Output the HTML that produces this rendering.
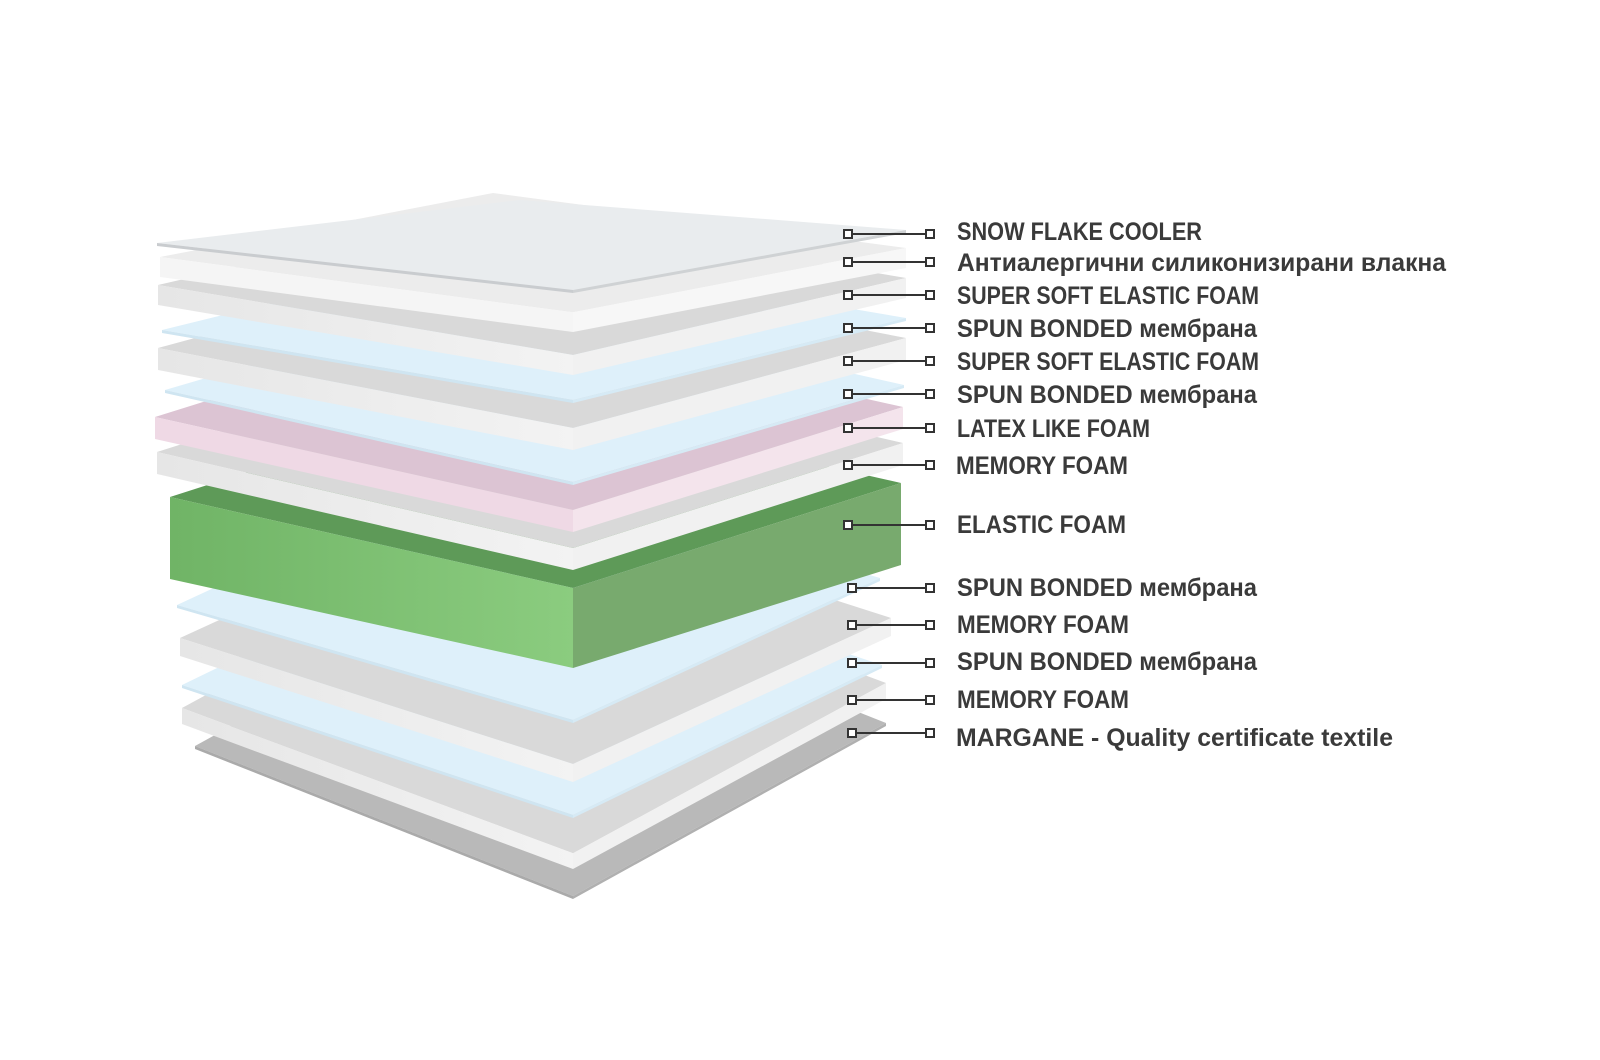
<!DOCTYPE html>
<html><head><meta charset="utf-8"><style>
html,body{margin:0;padding:0;background:#fff;width:1600px;height:1060px;overflow:hidden}
svg{display:block}
text{font-family:"Liberation Sans Narrow","Liberation Sans",sans-serif;font-weight:bold;font-size:25px;fill:#3a3a3a}
</style></head><body>
<svg width="1600" height="1060" viewBox="0 0 1600 1060" xmlns="http://www.w3.org/2000/svg">
<defs>
<linearGradient id="gl" x1="0" x2="1"><stop offset="0" stop-color="#70b466"/><stop offset="1" stop-color="#8bcc7f"/></linearGradient>
<linearGradient id="wl" x1="0" x2="1"><stop offset="0" stop-color="#e6e6e6"/><stop offset="1" stop-color="#f3f3f3"/></linearGradient>
</defs>
<polygon points="195,746 508,573 886,723 573,896" fill="#b9b9b9"/>
<polygon points="195,746 573,896 573,899 195,749" fill="#aaa"/>
<polygon points="573,896 886,723 886,726 573,899" fill="#b0b0b0"/>
<polygon points="182,708 495,538 886,683 573,853" fill="#d9d9d9"/>
<polygon points="182,708 573,853 573,869 182,724" fill="url(#wl)"/>
<polygon points="573,853 886,683 886,699 573,869" fill="#f1f1f1"/>
<polygon points="182,685 491,535 882,665 573,815" fill="#def0fa"/>
<polygon points="182,685 573,815 573,818 182,688" fill="#cfe5f1"/>
<polygon points="573,815 882,665 882,668 573,818" fill="#d6eaf5"/>
<polygon points="180,638 498,492 891,618 573,764" fill="#d9d9d9"/>
<polygon points="180,638 573,764 573,782 180,656" fill="url(#wl)"/>
<polygon points="573,764 891,618 891,636 573,782" fill="#f1f1f1"/>
<polygon points="177,605 484,463 880,578 573,720" fill="#def0fa"/>
<polygon points="177,605 573,720 573,723 177,608" fill="#cfe5f1"/>
<polygon points="573,720 880,578 880,581 573,723" fill="#d6eaf5"/>
<!-- green -->
<polygon points="170,497 498,392 901,483 573,588" fill="#5e9a58"/>
<polygon points="170,497 573,588 573,668 170,579" fill="url(#gl)"/>
<polygon points="573,588 901,483 901,565 573,668" fill="#78aa6e"/>
<polygon points="157,452 487,347 903,443 573,548" fill="#d9d9d9"/>
<polygon points="157,452 573,548 573,570 157,474" fill="url(#wl)"/>
<polygon points="573,548 903,443 903,465 573,570" fill="#f1f1f1"/>
<polygon points="155,417 485,314 903,407 573,510" fill="#dcc4d3"/>
<polygon points="155,417 573,510 573,532 155,439" fill="#efd9e5"/>
<polygon points="573,510 903,407 903,429 573,532" fill="#f4e4ec"/>
<polygon points="165,390 496,293 904,385 573,482" fill="#def0fa"/>
<polygon points="165,390 573,482 573,485 165,393" fill="#cfe5f1"/>
<polygon points="573,482 904,385 904,388 573,485" fill="#d6eaf5"/>
<polygon points="158,348 491,258 906,338 573,428" fill="#d9d9d9"/>
<polygon points="158,348 573,428 573,450 158,370" fill="url(#wl)"/>
<polygon points="573,428 906,338 906,360 573,450" fill="#f1f1f1"/>
<polygon points="162,330 495,248 906,318 573,400" fill="#def0fa"/>
<polygon points="162,330 573,400 573,403 162,333" fill="#cfe5f1"/>
<polygon points="573,400 906,318 906,321 573,403" fill="#d6eaf5"/>
<polygon points="158,285 491,208 906,278 573,355" fill="#d9d9d9"/>
<polygon points="158,285 573,355 573,375 158,305" fill="url(#wl)"/>
<polygon points="573,355 906,278 906,298 573,375" fill="#f1f1f1"/>
<polygon points="160,257 493,193 906,248 573,312" fill="#ececec"/>
<polygon points="160,257 573,312 573,332 160,277" fill="#f5f5f5"/>
<polygon points="573,312 906,248 906,268 573,332" fill="#f7f7f7"/>
<polygon points="157,243 520,200 906,230 573,290" fill="#e9ecee"/>
<polygon points="157,243 573,290 573,293 157,246" fill="#c9cccf"/>
<polygon points="573,290 906,230 906,233 573,293" fill="#cfd2d4"/>

<g stroke="#333" stroke-width="2" fill="#fff">
<line x1="848" y1="234" x2="926" y2="234"/><rect x="844" y="230" width="8" height="8"/><rect x="926" y="230" width="8" height="8"/>
<line x1="848" y1="262" x2="926" y2="262"/><rect x="844" y="258" width="8" height="8"/><rect x="926" y="258" width="8" height="8"/>
<line x1="848" y1="295" x2="926" y2="295"/><rect x="844" y="291" width="8" height="8"/><rect x="926" y="291" width="8" height="8"/>
<line x1="848" y1="328" x2="926" y2="328"/><rect x="844" y="324" width="8" height="8"/><rect x="926" y="324" width="8" height="8"/>
<line x1="848" y1="361" x2="926" y2="361"/><rect x="844" y="357" width="8" height="8"/><rect x="926" y="357" width="8" height="8"/>
<line x1="848" y1="394" x2="926" y2="394"/><rect x="844" y="390" width="8" height="8"/><rect x="926" y="390" width="8" height="8"/>
<line x1="848" y1="428" x2="926" y2="428"/><rect x="844" y="424" width="8" height="8"/><rect x="926" y="424" width="8" height="8"/>
<line x1="848" y1="465" x2="926" y2="465"/><rect x="844" y="461" width="8" height="8"/><rect x="926" y="461" width="8" height="8"/>
<line x1="848" y1="525" x2="926" y2="525"/><rect x="844" y="521" width="8" height="8"/><rect x="926" y="521" width="8" height="8"/>
<line x1="852" y1="588" x2="926" y2="588"/><rect x="848" y="584" width="8" height="8"/><rect x="926" y="584" width="8" height="8"/>
<line x1="852" y1="625" x2="926" y2="625"/><rect x="848" y="621" width="8" height="8"/><rect x="926" y="621" width="8" height="8"/>
<line x1="852" y1="663" x2="926" y2="663"/><rect x="848" y="659" width="8" height="8"/><rect x="926" y="659" width="8" height="8"/>
<line x1="852" y1="700" x2="926" y2="700"/><rect x="848" y="696" width="8" height="8"/><rect x="926" y="696" width="8" height="8"/>
<line x1="852" y1="733" x2="926" y2="733"/><rect x="848" y="729" width="8" height="8"/><rect x="926" y="729" width="8" height="8"/>
</g>
<g>
<text x="957" y="240" textLength="245" lengthAdjust="spacingAndGlyphs">SNOW FLAKE COOLER</text>
<text x="957" y="271" textLength="489" lengthAdjust="spacingAndGlyphs">Антиалергични силиконизирани влакна</text>
<text x="957" y="304" textLength="302" lengthAdjust="spacingAndGlyphs">SUPER SOFT ELASTIC FOAM</text>
<text x="957" y="337" textLength="300" lengthAdjust="spacingAndGlyphs">SPUN BONDED мембрана</text>
<text x="957" y="370" textLength="302" lengthAdjust="spacingAndGlyphs">SUPER SOFT ELASTIC FOAM</text>
<text x="957" y="403" textLength="300" lengthAdjust="spacingAndGlyphs">SPUN BONDED мембрана</text>
<text x="957" y="437" textLength="193" lengthAdjust="spacingAndGlyphs">LATEX LIKE FOAM</text>
<text x="956" y="474" textLength="172" lengthAdjust="spacingAndGlyphs">MEMORY FOAM</text>
<text x="957" y="533" textLength="169" lengthAdjust="spacingAndGlyphs">ELASTIC FOAM</text>
<text x="957" y="596" textLength="300" lengthAdjust="spacingAndGlyphs">SPUN BONDED мембрана</text>
<text x="957" y="633" textLength="172" lengthAdjust="spacingAndGlyphs">MEMORY FOAM</text>
<text x="957" y="670" textLength="300" lengthAdjust="spacingAndGlyphs">SPUN BONDED мембрана</text>
<text x="957" y="708" textLength="172" lengthAdjust="spacingAndGlyphs">MEMORY FOAM</text>
<text x="956" y="746" textLength="437" lengthAdjust="spacingAndGlyphs">MARGANE - Quality certificate textile</text>
</g>
</svg>
</body></html>
